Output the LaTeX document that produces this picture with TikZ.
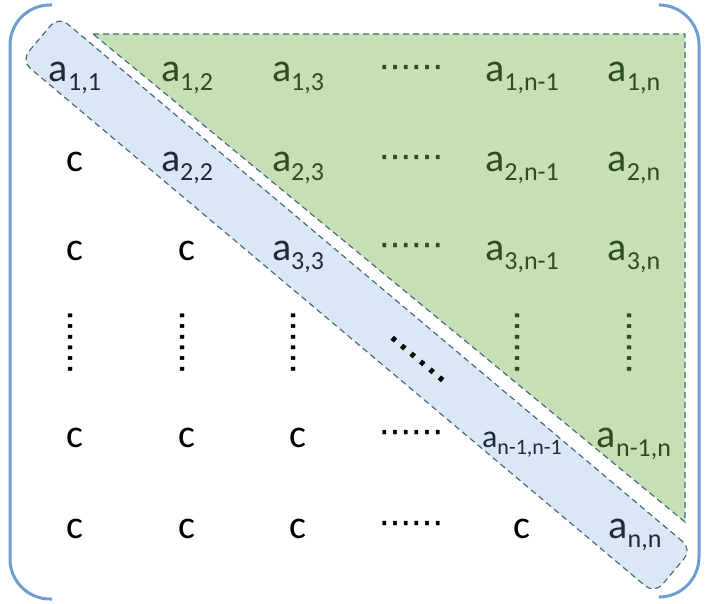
\documentclass[tikz,border=0pt]{standalone}
\usepackage{fontspec}
\setmainfont{Carlito}
\newfontfamily\dotfont[FakeBold=1.2]{DejaVu Sans}
\definecolor{brk}{HTML}{6D9ECF}
\definecolor{grfill}{HTML}{C5E0B4}
\definecolor{blfill}{HTML}{DAE7F4}
\definecolor{edge}{HTML}{4A6A84}
\definecolor{grtext}{HTML}{2E4B22}
\definecolor{bltext}{HTML}{1E2B3C}
\newcommand\ent[2]{#1\raisebox{-9pt}{\fontsize{26}{26}\selectfont #2}}
\newcommand\entsmall[2]{#1\raisebox{-7pt}{\fontsize{22}{22}\selectfont #2}}
\begin{document}
\begin{tikzpicture}[x=1pt,y=-1pt,
  bracket/.style={draw=brk, line width=3pt, rounded corners=40pt},
  entry/.style={anchor=base, inner sep=0pt, font=\fontsize{40}{48}\selectfont},
  smallentry/.style={anchor=base, inner sep=0pt, font=\fontsize{32}{38}\selectfont},
  gr/.style={text=grtext},
  bl/.style={text=bltext},
  dotsh/.style={inner sep=0pt, font=\dotfont\fontsize{32}{32}\selectfont},
  edgedash/.style={draw=edge, line width=1.2pt, dash pattern=on 6pt off 4pt},
  bandbox/.style={edgedash, fill=blfill, rounded corners=12pt, rotate=-40.08,
    minimum width=828pt, minimum height=58pt, inner sep=0pt}]
\useasboundingbox (0,0) rectangle (709,604);
% brackets
\draw[bracket] (52,5) -- (10,5) -- (10,599) -- (52,599);
\draw[bracket] (660,5) -- (699,5) -- (699,597) -- (660,597);
% green triangle
\coordinate (g1) at (93,34);
\coordinate (g2) at (685,34);
\coordinate (g3) at (685,522);
\path[fill=grfill, edgedash] (g1) -- (g2) -- (g3) -- cycle;
% blue band
\node[bandbox] (band) at (356.5,305) {};
% row 1
\node[entry,bl] (a11) at (75,82) {\ent{a}{1,1}};
\node[entry,gr] (a12) at (187,82) {\ent{a}{1,2}};
\node[entry,gr] (a13) at (298,82) {\ent{a}{1,3}};
\node[dotsh,gr] (d14) at (411,71) {⋯⋯};
\node[entry,gr] (a15) at (522,82) {\ent{a}{1,n-1}};
\node[entry,gr] (a16) at (634,82) {\ent{a}{1,n}};
% row 2
\node[entry] (c21) at (75,172) {c};
\node[entry,bl] (a22) at (187,172) {\ent{a}{2,2}};
\node[entry,gr] (a23) at (298,172) {\ent{a}{2,3}};
\node[dotsh,gr] (d24) at (411,161) {⋯⋯};
\node[entry,gr] (a25) at (522,172) {\ent{a}{2,n-1}};
\node[entry,gr] (a26) at (634,172) {\ent{a}{2,n}};
% row 3
\node[entry] (c31) at (75,260) {c};
\node[entry] (c32) at (187,260) {c};
\node[entry,bl] (a33) at (298,260) {\ent{a}{3,3}};
\node[dotsh,gr] (d34) at (411,249) {⋯⋯};
\node[entry,gr] (a35) at (522,260) {\ent{a}{3,n-1}};
\node[entry,gr] (a36) at (634,260) {\ent{a}{3,n}};
% row 4
\node[dotsh,rotate=90] (v1) at (74,342) {⋯⋯};
\node[dotsh,rotate=90] (v2) at (186,342) {⋯⋯};
\node[dotsh,rotate=90] (v3) at (297,342) {⋯⋯};
\node[dotsh,rotate=-40,font=\dotfont\fontsize{37}{37}\selectfont] (dg) at (414.5,362.5) {⋯⋯};
\node[dotsh,gr,rotate=90] (v5) at (521,342) {⋯⋯};
\node[dotsh,gr,rotate=90] (v6) at (633,342) {⋯⋯};
% row 5
\node[entry] (c51) at (75,447) {c};
\node[entry] (c52) at (187,447) {c};
\node[entry] (c53) at (298,447) {c};
\node[dotsh] (d54) at (411,436) {⋯⋯};
\node[smallentry,bl] (a55) at (522,447) {\entsmall{a}{n-1,n-1}};
\node[entry,gr] (a56) at (634,447) {\ent{a}{n-1,n}};
% row 6
\node[entry] (c61) at (75,538) {c};
\node[entry] (c62) at (187,538) {c};
\node[entry] (c63) at (298,538) {c};
\node[dotsh] (d64) at (411,527) {⋯⋯};
\node[entry] (c65) at (522,538) {c};
\node[entry,bl] (a66) at (635,538) {\ent{a}{n,n}};
\end{tikzpicture}
\end{document}
